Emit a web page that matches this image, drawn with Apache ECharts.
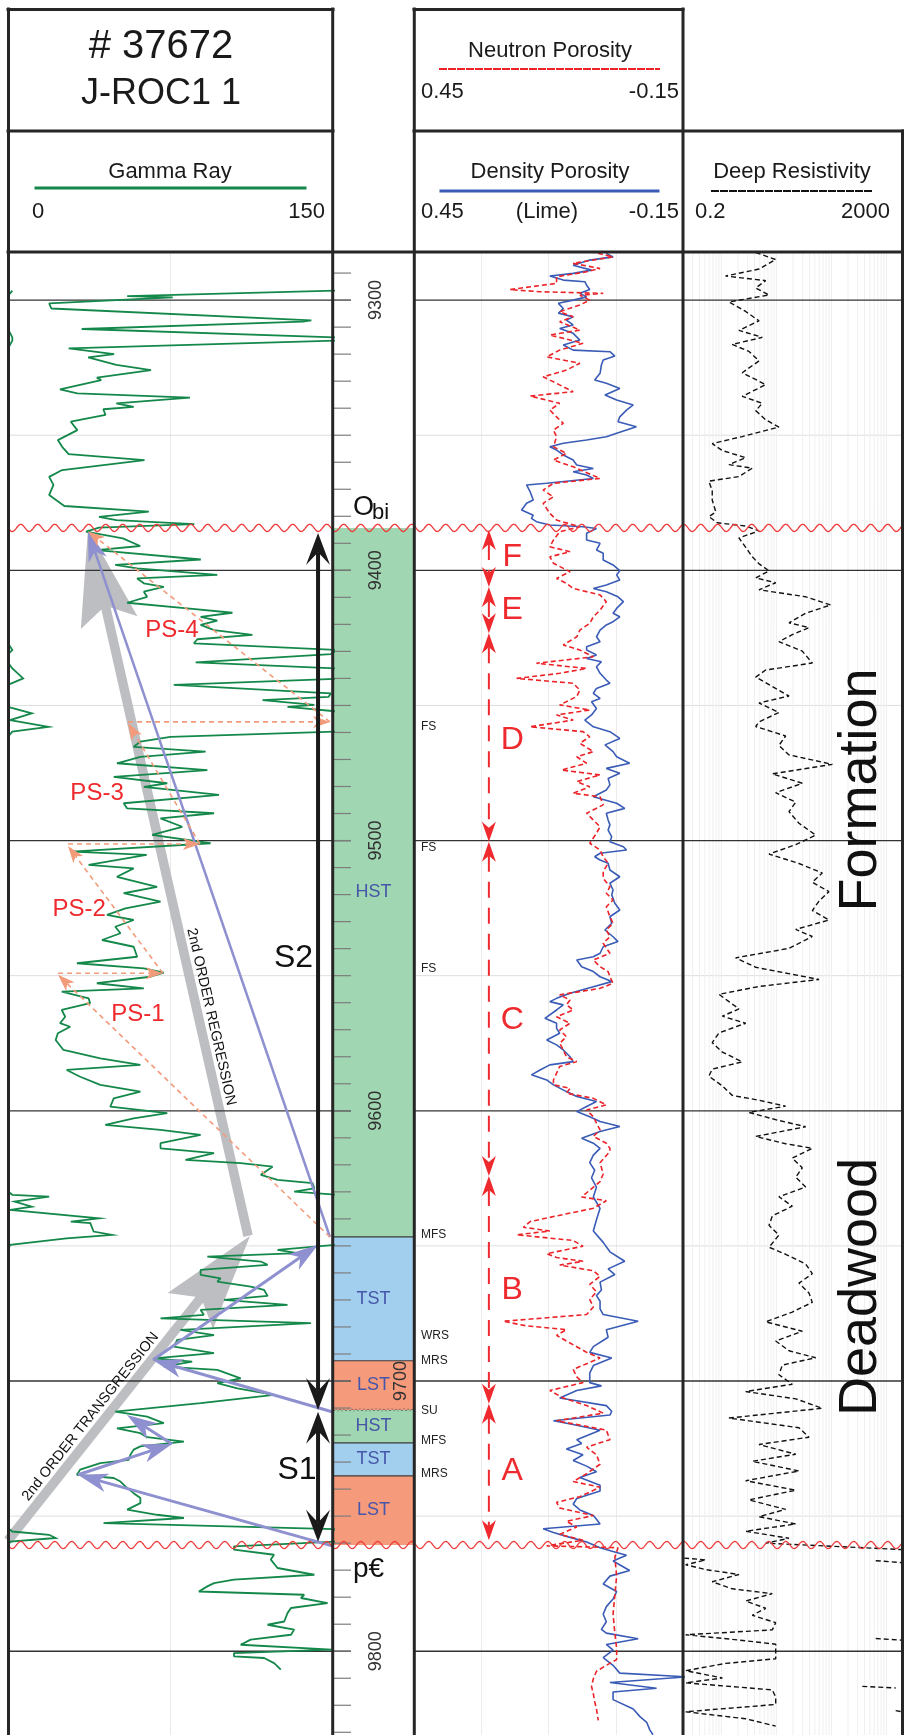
<!DOCTYPE html>
<html><head><meta charset="utf-8">
<script src="https://cdn.jsdelivr.net/npm/echarts@6/dist/echarts.min.js"></script>
<style>html,body{margin:0;padding:0;background:#fff}#c{width:904px;height:1735px}</style>
</head><body><div id="c"></div>
<script>
const DEPTH_MIN = 9282.2, DEPTH_MAX = 9831;

// Gamma Ray [depth, API]
const gammaRay = [[9296.5,152],[9298.5,55],[9299.0,76],[9301.2,19],[9303.1,20],[9307.5,140],[9308.0,136],[9310.7,34],[9313.8,152],[9315.0,152],[9317.9,28],[9320.0,49],[9321.2,37],[9324.0,50],[9325.9,66],[9328.7,41],[9329.6,43],[9333.0,24],[9334.5,32],[9336.1,84],[9338.2,50],[9339.5,58],[9340.4,44],[9342.5,45],[9345.0,29],[9348.1,32],[9351.8,23],[9354.3,25],[9357.0,28],[9359.2,63],[9362.9,25],[9365.4,19],[9368.4,21],[9372.1,19],[9376.2,26],[9378.3,65],[9380.2,42],[9381.4,50],[9382.9,86],[9384.2,42],[9385.7,36],[9388.2,53],[9391.0,61],[9392.5,41],[9396.0,89],[9398.0,49.5],[9399.3,59.6],[9401.7,96.6],[9403.0,59.6],[9404.8,62.7],[9406.1,71.9],[9407.9,62.7],[9409.8,64.2],[9412.0,55],[9414.1,82.7],[9415.7,103.6],[9417.2,88.9],[9418.6,96.6],[9420.2,88.9],[9422.1,95.1],[9423.9,112.8],[9425.5,87.4],[9427.0,85.8],[9429.5,152],[9431.0,149],[9434.1,86.6],[9436.3,152],[9440.0,157],[9442.4,76.5],[9445.5,149],[9446.8,148],[9448.0,117.5],[9449.8,141.4],[9450.5,129],[9452.9,161],[9455.4,151],[9457.9,168.7],[9459.7,152],[9461.6,75],[9463.4,61.1],[9465.3,58],[9467.1,91.2],[9469.0,61.1],[9471.4,50.3],[9473.9,92],[9476.4,48.8],[9478.8,73.5],[9480.1,62.7],[9483.1,97.4],[9486.2,53.4],[9488.1,55],[9489.9,95.1],[9491.8,70.4],[9494.9,80.4],[9497.9,66.5],[9501.0,93.5],[9504.1,29.5],[9505.3,64],[9509.0,37.2],[9510.3,58],[9513.4,50.3],[9517.1,68.8],[9519.5,53.4],[9522.6,70.4],[9525.1,54.2],[9527.5,45.7],[9529.4,58],[9531.9,49.5],[9534.3,51.9],[9536.8,43.4],[9539.3,58],[9543.0,59.6],[9545.4,31.8],[9547.3,62.7],[9548.9,71.9],[9550.4,65.7],[9552.8,41],[9554.7,62.7],[9555.9,24.8],[9558.4,37.2],[9560.2,37.9],[9562.7,24.8],[9565.2,26.4],[9567.6,24],[9568.9,28.7],[9571.3,23],[9573.8,22],[9577.5,25.6],[9580.6,42.6],[9583.0,61.1],[9584.9,27.1],[9587.4,33.3],[9590.4,42.6],[9592.9,61.1],[9595.4,48.8],[9598.5,47.2],[9600.9,73.5],[9602.8,58],[9605.2,44.9],[9607.1,70.4],[9608.9,88.9],[9612.0,70.4],[9613.9,70.4],[9615.7,95.1],[9618.2,81.9],[9619.4,107.4],[9620.7,122.1],[9623.7,116.7],[9625.6,124.4],[9626.8,140.6],[9628.7,141.4],[9629.9,132.1],[9631.1,152],[9631.8,169],[9633.6,153],[9635.5,161],[9636.7,151],[9639.8,192],[9641.0,179],[9641.6,188],[9644.7,189.5],[9645.9,198],[9647.2,177],[9649.6,151],[9651.5,124.4],[9652.7,133.7],[9654.0,92],[9655.8,116.7],[9657.0,119.8],[9658.9,88.9],[9660.7,88.9],[9662.0,98.1],[9663.2,96.6],[9665.1,112],[9666.3,118.2],[9668.5,119.8],[9670.0,99.7],[9671.8,129],[9673.7,88.9],[9675.5,90.4],[9676.8,70.4],[9678.6,139.8],[9681.1,79.6],[9683.0,95.1],[9684.8,78.1],[9687.3,76.5],[9689.7,95.1],[9691.6,67.3],[9692.8,85],[9694.7,71.9],[9695.9,96.6],[9699.0,107.4],[9700.8,96.6],[9702.7,105.9],[9705.1,122.8],[9708.2,88.9],[9711.3,49.5],[9713.2,64.2],[9715.6,71.9],[9717.5,50.3],[9719.3,61.1],[9720.8,64.2],[9722.4,81.2],[9724.2,61.1],[9725.4,58],[9727.3,56.5],[9729.2,55.7],[9730.4,42.6],[9732.8,33.3],[9734.7,31.8],[9735.9,48.8],[9737.2,51.9],[9739.0,54.2],[9741.5,58],[9743.3,61.1],[9745.2,61.1],[9747.6,55],[9749.5,68.8],[9750.7,81.2],[9752.6,44.1],[9754.8,150.5],[9755.7,152],[9756.9,169],[9758.1,172],[9759.4,151],[9761.2,104.3],[9762.4,104.3],[9764.3,122.8],[9766.1,121.3],[9769.2,124.4],[9771.7,141.4],[9773.5,104.3],[9774.8,95.1],[9776.0,92],[9777.9,88.1],[9779.1,136.7],[9780.3,135.2],[9782.2,147.5],[9784.0,130.6],[9785.9,129],[9789.0,127.5],[9790.2,119.8],[9792.0,132.1],[9793.9,130.6],[9795.7,112],[9797.6,107.4],[9799.4,149.5],[9800.7,104.3],[9801.9,104.3],[9802.5,118.2],[9804.4,122.8],[9805.6,124.4],[9806.8,125.9]];

// Density porosity (lime) [depth, v/v]
const densityPorosity = [[9282.7,0.021],[9284.0,0.006],[9285.2,0.058],[9287.1,0.095],[9288.9,0.054],[9290.1,0.095],[9291.1,0.147],[9292.6,0.117],[9293.2,0.069],[9294.5,0.065],[9296.1,0.058],[9297.5,0.080],[9298.8,0.065],[9300.0,0.095],[9301.2,0.128],[9303.1,0.117],[9304.9,0.128],[9306.2,0.095],[9307.4,0.110],[9309.2,0.095],[9310.5,0.125],[9312.3,0.095],[9314.8,0.080],[9316.6,0.117],[9318.5,0.095],[9319.1,0.013],[9320.7,0.002],[9322.2,0.028],[9324.0,0.032],[9327.1,0.035],[9329.6,0.047],[9330.8,0.021],[9332.7,-0.009],[9335.1,0.024],[9337.0,-0.002],[9338.8,-0.039],[9340.7,-0.024],[9343.2,-0.009],[9345.0,-0.005],[9346.9,-0.046],[9348.1,-0.024],[9349.3,-0.002],[9350.6,0.021],[9351.8,0.065],[9353.0,0.117],[9354.3,0.147],[9355.5,0.132],[9357.3,0.117],[9359.2,0.095],[9361.0,0.087],[9362.3,0.050],[9363.5,0.095],[9364.7,0.065],[9366.0,0.050],[9367.8,0.154],[9368.4,0.199],[9370.9,0.191],[9374.0,0.184],[9375.2,0.199],[9377.7,0.210],[9379.6,0.184],[9380.8,0.188],[9382.0,0.177],[9383.2,0.147],[9383.9,0.073],[9384.5,0.043],[9386.3,0.065],[9388.8,0.065],[9390.0,0.035],[9392.5,0.043],[9393.7,0.028],[9396.2,0.028],[9398.0,0.006],[9400.1,-0.009],[9401.7,-0.002],[9403.6,-0.009],[9405.4,0.021],[9406.7,0.050],[9407.9,0.021],[9409.8,-0.005],[9411.6,-0.017],[9414.1,-0.002],[9415.9,0.006],[9417.2,-0.009],[9419.0,0.006],[9420.2,0.021],[9422.1,0.035],[9424.6,0.043],[9426.4,0.035],[9428.3,0.065],[9429.5,0.065],[9431.3,0.043],[9432.6,0.065],[9433.8,0.032],[9435.7,0.043],[9438.1,0.035],[9440.6,0.021],[9441.8,0.013],[9443.7,0.043],[9445.5,0.050],[9447.4,0.035],[9448.6,0.054],[9451.1,0.043],[9453.5,0.054],[9455.4,0.069],[9457.9,0.050],[9459.7,0.013],[9462.2,-0.009],[9464.6,0.024],[9467.1,0.006],[9469.0,-0.002],[9471.4,-0.031],[9473.3,0.021],[9475.1,-0.009],[9477.0,0.017],[9479.4,0.013],[9481.3,0.021],[9483.8,0.050],[9486.2,-0.002],[9488.1,-0.020],[9489.9,0.021],[9492.4,0.017],[9494.2,0.013],[9496.1,0.017],[9498.6,0.009],[9500.4,0.013],[9502.3,-0.017],[9503.5,-0.024],[9504.7,0.035],[9506.0,0.047],[9507.2,0.035],[9508.4,0.017],[9510.9,0.013],[9513.4,-0.009],[9515.8,0.013],[9518.3,0.006],[9520.1,0.009],[9523.2,0.002],[9525.7,-0.009],[9528.2,0.013],[9530.6,0.009],[9533.1,0.024],[9535.6,0.006],[9537.4,-0.005],[9539.3,0.028],[9541.7,0.035],[9543.0,0.050],[9544.2,0.087],[9546.7,0.076],[9548.5,0.050],[9550.4,0.035],[9552.2,0.009],[9554.1,0.050],[9556.5,0.102],[9558.4,0.132],[9559.6,0.147],[9560.8,0.117],[9562.7,0.132],[9565.8,0.158],[9567.6,0.132],[9569.5,0.132],[9571.3,0.125],[9573.8,0.154],[9575.6,0.132],[9577.5,0.117],[9580.0,0.102],[9581.8,0.095],[9583.0,0.147],[9584.9,0.169],[9586.7,0.188],[9588.6,0.154],[9590.4,0.139],[9592.9,0.110],[9594.7,0.087],[9596.6,0.043],[9598.4,0.065],[9600.3,0.087],[9602.2,0.058],[9604.0,0.035],[9605.8,-0.009],[9607.7,0.035],[9610.2,0.076],[9612.0,0.050],[9613.9,0.035],[9616.4,0.050],[9619.2,0.058],[9622.0,0.047],[9624.8,0.054],[9628.3,0.043],[9631.9,0.050],[9636.1,0.035],[9640.3,0.043],[9644.5,0.050],[9648.7,0.028],[9652.2,0.013],[9655.7,-0.020],[9658.5,0.017],[9660.6,0.002],[9663.4,0.035],[9666.3,0.032],[9668.4,0.043],[9670.5,0.035],[9673.3,0.035],[9675.4,0.028],[9677.9,-0.050],[9681.0,0.021],[9683.8,0.017],[9687.3,0.050],[9689.4,0.058],[9691.5,0.009],[9694.3,0.050],[9697.1,0.058],[9700.6,0.058],[9701.8,0.032],[9703.5,0.087],[9706.3,0.125],[9709.1,0.021],[9711.2,0.009],[9712.6,0.013],[9714.7,0.139],[9716.1,0.095],[9718.2,0.035],[9721.7,0.087],[9723.1,0.076],[9725.2,0.110],[9727.3,0.073],[9729.4,0.095],[9731.5,0.065],[9733.6,0.043],[9735.7,0.080],[9738.6,0.035],[9740.7,0.035],[9743.5,0.087],[9745.6,0.095],[9747.7,0.080],[9749.8,0.050],[9751.2,0.043],[9752.9,0.035],[9754.7,0.162],[9756.1,0.139],[9757.5,0.110],[9759.6,0.065],[9761.7,0.035],[9763.1,0.006],[9764.5,-0.024],[9766.6,0.006],[9770.1,-0.031],[9772.2,0.013],[9775.1,0.028],[9777.9,-0.002],[9780.7,0.006],[9783.5,0.021],[9786.3,0.028],[9789.1,0.021],[9791.9,0.032],[9793.3,0.021],[9795.4,-0.050],[9797.5,0.021],[9799.6,0.006],[9802.4,0.028],[9805.2,0.006],[9808.1,-0.009],[9809.5,-0.158],[9811.6,0.013],[9813.7,-0.091],[9815.1,0.006],[9817.9,0.006],[9821.4,-0.039],[9824.2,-0.054],[9826.3,-0.069],[9829.1,-0.076],[9830.9,-0.083]];

// Neutron porosity [depth, v/v]
const neutronPorosity = [[9282.25,0.45],[9282.3,0.05],[9284.0,0.006],[9286.4,0.095],[9288.3,0.035],[9289.5,0.065],[9291.4,0.132],[9293.8,0.132],[9296.1,0.236],[9296.9,0.169],[9297.5,0.028],[9298.2,0.080],[9300.0,0.058],[9301.8,0.080],[9304.3,0.125],[9306.2,0.095],[9308.0,0.125],[9311.1,0.080],[9312.9,0.147],[9316.0,0.073],[9318.5,0.125],[9321.0,0.154],[9323.4,0.080],[9325.9,0.110],[9328.4,0.162],[9330.8,0.132],[9333.9,0.095],[9335.5,0.191],[9338.2,0.125],[9340.7,0.147],[9343.2,0.132],[9345.6,0.117],[9348.1,0.139],[9350.6,0.132],[9354.3,0.139],[9356.7,0.110],[9359.2,0.139],[9361.7,0.095],[9366.0,0.035],[9367.8,0.139],[9370.3,0.162],[9372.8,0.139],[9375.2,0.162],[9378.9,0.147],[9381.4,0.132],[9383.9,0.080],[9385.7,0.125],[9388.8,0.139],[9391.3,0.147],[9393.1,0.102],[9395.0,0.147],[9397.4,0.139],[9400.5,0.102],[9403.0,0.132],[9404.8,0.110],[9406.7,0.095],[9409.1,0.035],[9411.6,0.021],[9414.7,0.035],[9417.2,0.050],[9419.6,0.058],[9422.1,0.080],[9424.6,0.087],[9427.6,0.117],[9429.5,0.080],[9432.0,0.050],[9434.4,0.177],[9436.3,0.065],[9438.1,0.125],[9440.0,0.221],[9441.8,0.095],[9444.3,0.080],[9446.7,0.087],[9449.8,0.125],[9451.7,0.058],[9453.5,0.132],[9455.4,0.095],[9457.9,0.191],[9459.7,0.073],[9461.6,0.058],[9464.0,0.080],[9467.1,0.050],[9469.0,0.087],[9471.4,0.065],[9473.9,0.121],[9475.7,0.035],[9478.2,0.087],[9480.1,0.058],[9482.5,0.095],[9483.8,0.035],[9486.8,0.028],[9489.9,0.065],[9492.4,0.050],[9494.9,0.035],[9497.3,0.043],[9501.0,0.058],[9503.5,0.035],[9506.0,0.028],[9508.4,0.017],[9511.5,0.028],[9514.0,0.028],[9517.1,0.013],[9519.5,0.021],[9522.0,0.006],[9524.5,0.021],[9528.2,0.013],[9530.6,0.006],[9533.1,0.021],[9535.6,0.013],[9538.0,0.028],[9541.7,0.013],[9544.2,0.050],[9546.7,0.035],[9548.5,0.017],[9550.4,0.013],[9552.8,0.006],[9554.7,0.035],[9555.9,0.080],[9557.1,0.125],[9559.0,0.102],[9560.8,0.110],[9562.7,0.095],[9565.2,0.132],[9567.6,0.102],[9570.1,0.125],[9572.6,0.110],[9575.0,0.125],[9577.5,0.117],[9580.0,0.110],[9581.8,0.087],[9583.6,0.125],[9586.1,0.132],[9588.6,0.139],[9590.4,0.139],[9591.7,0.102],[9593.5,0.110],[9595.4,0.050],[9597.8,0.021],[9599.7,0.065],[9602.2,0.050],[9604.6,0.043],[9607.1,0.035],[9609.5,0.050],[9612.0,0.021],[9613.9,0.013],[9615.0,0.013],[9619.2,0.035],[9623.4,0.028],[9626.2,0.035],[9631.9,0.076],[9633.3,0.021],[9636.1,0.050],[9638.9,0.132],[9641.0,0.191],[9643.1,0.206],[9644.5,0.147],[9645.9,0.221],[9648.0,0.095],[9650.1,0.073],[9652.9,0.154],[9654.3,0.132],[9655.7,0.073],[9657.1,0.125],[9659.2,0.050],[9661.3,0.035],[9664.2,0.058],[9667.0,0.043],[9669.8,0.058],[9672.6,0.050],[9675.4,0.065],[9677.9,0.251],[9679.6,0.199],[9681.0,0.110],[9683.1,0.132],[9685.2,0.110],[9687.3,0.087],[9689.4,0.065],[9691.5,0.035],[9693.6,0.065],[9695.7,0.095],[9698.5,0.087],[9700.6,0.073],[9703.5,0.147],[9706.3,0.117],[9709.1,0.065],[9711.9,0.028],[9714.7,0.132],[9718.2,0.021],[9721.7,0.013],[9724.5,0.065],[9727.3,0.043],[9730.8,0.035],[9734.3,0.065],[9737.2,0.095],[9739.3,0.035],[9742.8,0.080],[9744.9,0.132],[9747.0,0.125],[9749.8,0.050],[9751.9,0.110],[9754.0,0.087],[9756.8,0.125],[9758.9,0.073],[9761.0,0.154],[9761.7,-0.005],[9765.2,0.002],[9772.2,-0.002],[9779.3,0.002],[9786.3,0.006],[9793.3,0.002],[9799.0,-0.002],[9803.1,-0.002],[9805.2,0.021],[9807.4,0.043],[9810.2,0.050],[9813.0,0.054],[9815.8,0.050],[9818.6,0.047],[9821.4,0.043],[9825.6,0.039]];

// Deep resistivity [depth, ohm.m]
const deepResistivity = [[9282.4,4.2],[9285.0,9.7],[9288.5,4.82],[9291.1,1.19],[9292.8,6.38],[9295.5,4.2],[9298.1,7.33],[9300.7,1.37],[9304.2,2.76],[9307.7,4.82],[9311.2,2.08],[9313.8,5.53],[9316.4,1.57],[9319.0,3.17],[9322.5,4.82],[9326.9,2.39],[9331.3,6.38],[9335.6,2.39],[9338.2,5.53],[9340.9,4.2],[9344.3,6.38],[9347.0,11.1],[9350.5,2.39],[9353.1,0.68],[9355.7,1.04],[9358.3,2.76],[9360.9,1.37],[9362.2,3.64],[9365.3,2.08],[9367.0,0.59],[9370.5,0.68],[9374.0,0.68],[9378.4,0.79],[9380.1,0.59],[9382.4,0.84],[9383.6,2.76],[9385.4,4.82],[9388.0,2.08],[9391.5,2.76],[9395.0,3.64],[9397.6,4.82],[9400.2,7.33],[9402.8,4.2],[9404.6,9.7],[9407.2,4.82],[9409.8,34],[9412.8,97],[9415.9,34],[9419.4,16.9],[9421.2,39],[9423.8,19.4],[9426.4,11.1],[9429.9,29.5],[9434.3,44.9],[9436.9,6.38],[9439.5,4.2],[9443.0,8.41],[9446.5,16.9],[9449.1,4.82],[9452.6,11.1],[9456.1,4.82],[9457.8,4.2],[9461.3,14.7],[9464.8,11.1],[9468.3,16.9],[9471.8,104],[9475.3,8.41],[9478.8,29.5],[9482.3,9.7],[9485.8,22.4],[9489.3,16.9],[9493.6,25.7],[9498.0,51.8],[9501.5,22.4],[9505.0,7.33],[9508.5,25.7],[9512.0,68],[9515.4,44.9],[9518.9,90],[9522.4,59.4],[9525.9,44.9],[9529.4,90],[9532.9,22.4],[9535.5,44.9],[9539.9,16.9],[9543.4,1.81],[9546.9,4.2],[9551.4,59.4],[9554.0,4.82],[9556.9,0.9],[9559.6,1.37],[9562.3,2.08],[9565.0,1.04],[9567.6,2.76],[9571.2,0.9],[9574.8,0.68],[9578.3,1.04],[9581.9,2.39],[9584.6,0.68],[9587.2,0.59],[9590.8,1.04],[9594.3,1.57],[9596.1,4.82],[9598.3,14.7],[9600.6,3.17],[9603.3,9.7],[9605.9,34],[9609.5,4.2],[9612.2,14.7],[9613.9,44.9],[9617.5,19.4],[9621.1,29.5],[9624.6,22.4],[9628.2,34],[9631.8,11.1],[9635.3,19.4],[9638.9,8.41],[9642.4,7.33],[9646.0,11.1],[9650.5,7.33],[9653.1,14.7],[9656.7,34],[9660.3,44.9],[9663.8,25.7],[9667.4,39],[9670.9,44.9],[9674.5,19.4],[9678.1,6.38],[9681.6,29.5],[9685.2,9.7],[9688.8,16.9],[9691.4,51.8],[9694.1,12.8],[9697.7,11.1],[9701.2,19.4],[9703.9,2.76],[9706.6,22.4],[9710.1,68],[9713.7,1.37],[9717.3,25.7],[9720.8,39],[9723.5,4.82],[9727.1,22.4],[9729.7,3.64],[9733.3,25.7],[9736.9,2.76],[9740.4,22.4],[9744.0,3.17],[9747.5,14.7],[9750.2,4.82],[9752.9,22.4],[9755.6,2.76],[9758.2,16.9],[9760.0,6.38],[9762.7,4000]];
// below the unconformity the curve is shown on the back-up (wrapped) trace
const deepResistivityLower = [[9765.3,0.15],[9766.2,0.52],[9768.0,0.224],[9769.8,0.52],[9771.6,2.08],[9774.3,0.68],[9776.9,1.57],[9778.7,8.41],[9781.4,2.76],[9784.1,6.38],[9786.7,3.64],[9789.4,9.7],[9792.1,8.41],[9793.9,0.224],[9795.6,1.57],[9797.4,9.7],[9802.8,9.7],[9804.5,1.19],[9807.2,0.224],[9809.9,1.04],[9811.7,0.224],[9814.3,8.41],[9817.0,9.7],[9819.7,9.7],[9822.4,0.224],[9825.0,2.76],[9827.7,9.7]];
const deepResistivityHighBits = [[[9766.5,640],[9767.3,2200]],[[9795.3,640],[9796.0,2200]],[[9813.0,364],[9813.6,1472]],[[9822.0,1472],[9822.6,2200]]];

// axis structure
const majorDepths = [9300, 9400, 9500, 9600, 9700, 9800];
const minorDepths = [9350, 9450, 9550, 9650, 9750];
const depthLabels = [9300, 9400, 9500, 9600, 9700, 9800];
const resGridValues = [0.3,0.4,0.5,0.6,0.7,0.8,0.9,1,2,3,4,5,6,7,8,9,10,20,30,40,50,60,70,80,90,100,200,300,400,500,600,700,800,900,1000];

// interpretation
const unconformities = [9384.3, 9760.7];
const systemsTracts = [['HST',9384.3,9646.7],['TST',9646.7,9692.5],['LST',9692.5,9710.7],['HST',9710.7,9722.9],['TST',9722.9,9735.1],['LST',9735.1,9760.7]];
const tractLabelDepths = [9519, 9669.6, 9701.6, 9716.8, 9729.0, 9747.9];
const tractBoundaries = [9646.7, 9692.5, 9722.9, 9735.1];
const subaerialUnconformity = [9710.7];
const surfaces = [['FS',9458],['FS',9502.8],['FS',9547.6],['MFS',9645.9],['WRS',9683.4],['MRS',9692.5],['SU',9711.1],['MFS',9722.1],['MRS',9734.3]];
const seqBounds = [9385.1, 9406.2, 9423.3, 9500.4, 9624.1, 9708.4, 9758.9];
const seqLetters = [['F',9395],['E',9414.7],['D',9462.8],['C',9566.4],['B',9666.5],['A',9733.2]];
const psLabels = [['PS-4',75.7,9422.1],['PS-3',41.1,9482.4],['PS-2',32.8,9525.3],['PS-1',60.0,9564.2]];
const sequenceLabels = [['S2',131.8,9543.6],['S1',133.4,9732.9]];
// arrows in (gamma API, depth) space: [x1, d1, x2, d2]
const secondOrderArrows = [[110.8,9646.3,36.9,9384.7],[0,9759.0,111.7,9646.3]];
const secondOrderNames = ['2nd ORDER REGRESSION', '2nd ORDER TRANSGRESSION'];
const trendArrows = [[149.5,9761.0,32.3,9734.7],[32.3,9734.7,75.7,9723.3],[75.7,9723.3,54.9,9712.6],[149.5,9711.4,66.9,9692.2],[66.9,9692.2,143.1,9649.6],[148.6,9646.7,36.9,9385.5]];
const parasequenceArrows = [[148.6,9646.7,23.1,9549.7],[23.1,9549.1,71.5,9549.1],[71.5,9549.1,27.7,9502.0],[27.7,9501.3,88.6,9501.3],[88.6,9501.3,55.4,9456.5],[55.4,9456.1,148.6,9456.1],[148.6,9456.1,36.9,9385.5]];
const sequenceSpans = [[143.1,9386.2,143.1,9710.7],[143.1,9711.4,143.1,9759.5]];

// ---------------- rendering ----------------
const FONT = '"Liberation Sans", Arial, sans-serif';
const f = (s) => s + 'px ' + FONT;
const tractColors = {HST:'#a0d6b1', TST:'#a3cfee', LST:'#f59a7b'};
const G = {top: 252, height: 1483};

function headShape(tip, from, h) {
  const dx = tip[0]-from[0], dy = tip[1]-from[1];
  const len = Math.hypot(dx, dy) || 1;
  const ux = dx/len, uy = dy/len, px = -uy, py = ux;
  const bx = tip[0]-ux*h.L, by = tip[1]-uy*h.L;
  const notch = [tip[0]-ux*h.L*h.n, tip[1]-uy*h.L*h.n];
  return {poly:[tip,[bx+px*h.W, by+py*h.W], notch, [bx-px*h.W, by-py*h.W]], notch};
}
function arrowSeries(grid, data, st, z) {
  return {
    type:'custom', xAxisIndex:grid, yAxisIndex:grid, z, silent:true, clip:false,
    data, encode:{x:[0,2], y:[1,3]},
    renderItem(params, api) {
      const a = api.coord([api.value(0), api.value(1)]);
      const b = api.coord([api.value(2), api.value(3)]);
      let s = a, e = b; const kids = [];
      if (st.end) { const h = headShape(b, a, st.end); kids.push({type:'polygon', shape:{points:h.poly}, style:{fill:st.color}}); e = h.notch; }
      if (st.start) { const h = headShape(a, b, st.start); kids.push({type:'polygon', shape:{points:h.poly}, style:{fill:st.color}}); s = h.notch; }
      kids.unshift({type:'line', shape:{x1:s[0],y1:s[1],x2:e[0],y2:e[1]}, style:{stroke:st.color, lineWidth:st.width, lineDash:st.dash || null, fill:null}});
      return {type:'group', children:kids};
    }
  };
}
function hLines(grid, xVal, depths, color, width, extend, z) {
  return {
    type:'custom', xAxisIndex:grid, yAxisIndex:grid, z, silent:true, clip:false,
    data: depths.map(d => [xVal, d]),
    renderItem(params, api) {
      const cs = params.coordSys;
      const y = api.coord([api.value(0), api.value(1)])[1];
      return {type:'line', shape:{x1:cs.x, y1:y, x2:cs.x+cs.width+(extend||0), y2:y}, style:{stroke:color, lineWidth:width}};
    }
  };
}
function wrapSegments(pairs, max) {
  const segs = []; let cur = null;
  pairs.forEach(([d, v], i) => {
    if (v > max) {
      if (!cur) { cur = []; if (i > 0) cur.push([0, pairs[i-1][0]]); }
      cur.push([v - max, d]);
    } else if (cur) { cur.push([0, d]); segs.push(cur); cur = null; }
  });
  if (cur) segs.push(cur);
  return segs;
}

const tickDepths = [];
for (let d = 9290; d <= 9830; d += 10) tickDepths.push(d);

const yAxes = [0,1,2,3].map(i => ({gridIndex:i, type:'value', inverse:true, min:DEPTH_MIN, max:DEPTH_MAX, show:false}));
const hiddenBits = {axisLine:{show:false}, axisTick:{show:false}, axisLabel:{show:false}};

const series = [
  hLines(0, 0, minorDepths, '#dedede', 1, 0, 1),
  hLines(2, 0, minorDepths, '#dedede', 1, 0, 1),
  hLines(3, 1, minorDepths, '#dedede', 1, 0, 1),
  {
    type:'custom', xAxisIndex:3, yAxisIndex:3, z:1, silent:true, clip:false,
    data: resGridValues.map(v => [v, 9300]),
    renderItem(params, api) {
      const cs = params.coordSys; const x = api.coord([api.value(0), api.value(1)])[0];
      return {type:'line', shape:{x1:x, y1:cs.y, x2:x, y2:cs.y+cs.height}, style:{stroke:'#efefef', lineWidth:1}};
    }
  },
  hLines(0, 0, majorDepths, '#333', 1.3, 18, 2),
  hLines(2, 0, majorDepths, '#333', 1.3, 0, 2),
  hLines(3, 1, majorDepths, '#333', 1.3, 0, 2),
  {
    type:'custom', xAxisIndex:1, yAxisIndex:1, z:1, silent:true, clip:false,
    data: systemsTracts.map(t => [0, t[1], 1, t[2]]),
    renderItem(params, api) {
      const a = api.coord([api.value(0), api.value(1)]), b = api.coord([api.value(2), api.value(3)]);
      return {type:'rect', shape:{x:a[0], y:a[1], width:b[0]-a[0], height:b[1]-a[1]}, style:{fill:tractColors[systemsTracts[params.dataIndex][0]]}};
    }
  },
  hLines(1, 0, tractBoundaries, '#3a3a3a', 1.2, 0, 2),
  {
    type:'custom', xAxisIndex:1, yAxisIndex:1, z:2, silent:true, clip:false,
    data: subaerialUnconformity.map(d => [0, d]),
    renderItem(params, api) {
      const cs = params.coordSys; const y = api.coord([0, api.value(1)])[1]; const pts = [];
      for (let x = cs.x; x <= cs.x + cs.width; x += 1) pts.push([x, y + 1.3*Math.sin((x-cs.x)*2*Math.PI/4)]);
      return {type:'polyline', shape:{points:pts}, style:{stroke:'#555', lineWidth:1, fill:null, lineDash:[1,1]}};
    }
  },
  {
    type:'custom', xAxisIndex:1, yAxisIndex:1, z:3, silent:true, clip:false,
    data: tickDepths.map(d => [0, d]),
    renderItem(params, api) {
      const cs = params.coordSys; const y = api.coord([0, api.value(1)])[1];
      return {type:'line', shape:{x1:cs.x, y1:y, x2:cs.x+18, y2:y}, style:{stroke:'#7d7d7d', lineWidth:1.2}};
    }
  },
  {
    type:'custom', xAxisIndex:1, yAxisIndex:1, z:4, silent:true, clip:false,
    data: tractLabelDepths.map(d => [0.5, d]),
    renderItem(params, api) {
      const p = api.coord([api.value(0), api.value(1)]);
      return {type:'text', x:p[0], y:p[1], style:{text:systemsTracts[params.dataIndex][0], fill:'#4656a8', font:f(18), align:'center', verticalAlign:'middle'}};
    }
  },
  {
    type:'custom', xAxisIndex:1, yAxisIndex:1, z:4, silent:true, clip:false,
    data: depthLabels.map(d => [d === 9700 ? 0.84 : 0.53, d]),
    renderItem(params, api) {
      const p = api.coord([api.value(0), api.value(1)]);
      return {type:'text', x:p[0], y:p[1], rotation:Math.PI/2, style:{text:String(depthLabels[params.dataIndex]), fill:'#333', font:f(18), align:'center', verticalAlign:'middle'}};
    }
  },
  {
    type:'custom', xAxisIndex:1, yAxisIndex:1, z:4, silent:true, clip:false,
    data: unconformities.map(d => [0, d]),
    renderItem(params, api) {
      const cs = params.coordSys; const y = api.coord([0, api.value(1)])[1];
      if (params.dataIndex === 0) {
        return {type:'group', children:[
          {type:'text', x:cs.x+20, y:y-20, style:{text:'O', fill:'#111', font:f(27), align:'left', verticalAlign:'middle'}},
          {type:'text', x:cs.x+39, y:y-15, style:{text:'bi', fill:'#111', font:f(22), align:'left', verticalAlign:'middle'}}
        ]};
      }
      return {type:'text', x:cs.x+20, y:y+24, style:{text:'p€', fill:'#111', font:f(28), align:'left', verticalAlign:'middle'}};
    }
  },
  arrowSeries(0, secondOrderArrows, {color:'#bdbec1', width:9.5, end:{L:96, W:29, n:0.82}}, 1),
  {
    type:'custom', xAxisIndex:0, yAxisIndex:0, z:5, silent:true, clip:false,
    data: secondOrderArrows, encode:{x:[0,2], y:[1,3]},
    renderItem(params, api) {
      const a = api.coord([api.value(0), api.value(1)]), b = api.coord([api.value(2), api.value(3)]);
      const len = Math.hypot(b[0]-a[0], b[1]-a[1]);
      const ux = (b[0]-a[0])/len, uy = (b[1]-a[1])/len;
      const regression = params.dataIndex === 0;
      const t = regression ? 0.306 : 0.381, off = regression ? 12.5 : -12.5;
      const cx = a[0] + ux*len*t - uy*off, cy = a[1] + uy*len*t + ux*off;
      const rx = regression ? -ux : ux, ry = regression ? -uy : uy;
      return {type:'text', x:cx, y:cy, rotation:-Math.atan2(ry, rx), style:{text:secondOrderNames[params.dataIndex], fill:'#111', font:f(14.5), align:'center', verticalAlign:'middle'}};
    }
  },
  {
    type:'line', name:'Gamma Ray', xAxisIndex:0, yAxisIndex:0, z:3, clip:true, showSymbol:false, symbol:'none', silent:true,
    data: gammaRay.map(([d, v]) => [v, d]), lineStyle:{color:'#14884a', width:1.8}
  },
  {
    type:'lines', coordinateSystem:'cartesian2d', xAxisIndex:0, yAxisIndex:0, z:3, polyline:true, silent:true, clip:true,
    data: wrapSegments(gammaRay, 150).map(s => ({coords:s})), lineStyle:{color:'#14884a', width:1.8, opacity:1}
  },
  {
    type:'line', name:'Density Porosity', xAxisIndex:2, yAxisIndex:2, z:3, clip:true, showSymbol:false, symbol:'none', silent:true,
    data: densityPorosity.map(([d, v]) => [v, d]), lineStyle:{color:'#3a5cb7', width:1.6}
  },
  {
    type:'line', name:'Neutron Porosity', xAxisIndex:2, yAxisIndex:2, z:4, clip:true, showSymbol:false, symbol:'none', silent:true,
    data: neutronPorosity.map(([d, v]) => [v, d]), lineStyle:{color:'#ec2328', width:1.6, type:[5,3]}
  },
  {
    type:'line', name:'Deep Resistivity', xAxisIndex:3, yAxisIndex:3, z:3, clip:true, showSymbol:false, symbol:'none', silent:true,
    data: deepResistivity.map(([d, v]) => [v, d]), lineStyle:{color:'#111', width:1.4, type:[5,3]}
  },
  {
    type:'line', name:'Deep Resistivity (wrapped)', xAxisIndex:3, yAxisIndex:3, z:3, clip:true, showSymbol:false, symbol:'none', silent:true,
    data: deepResistivityLower.map(([d, v]) => [v, d]), lineStyle:{color:'#111', width:1.4, type:[5,3]}
  },
  {
    type:'lines', coordinateSystem:'cartesian2d', xAxisIndex:3, yAxisIndex:3, z:3, polyline:true, silent:true, clip:true,
    data: deepResistivityHighBits.map(s => ({coords:s.map(([d, v]) => [v, d])})), lineStyle:{color:'#111', width:1.4, type:[5,3], opacity:1}
  },
  arrowSeries(0, trendArrows.slice(0, 5), {color:'#8e90cf', width:3, end:{L:30, W:9.5, n:0.72}}, 5),
  arrowSeries(0, trendArrows.slice(5), {color:'#8e90cf', width:2.5, end:{L:30, W:9.5, n:0.72}}, 5),
  arrowSeries(0, parasequenceArrows, {color:'#f29b7b', width:1.6, dash:[5,4], end:{L:17, W:6, n:0.75}}, 5),
  arrowSeries(0, sequenceSpans, {color:'#1a1a1a', width:4, start:{L:32, W:12, n:0.6}, end:{L:32, W:12, n:0.6}}, 6),
  arrowSeries(2, seqBounds.slice(0, -1).map((b, i) => [0.283, b, 0.283, seqBounds[i+1]]), {color:'#ee2a2e', width:2, dash:[16,10], start:{L:20, W:7, n:0.7}, end:{L:20, W:7, n:0.7}}, 6),
  {
    type:'custom', xAxisIndex:0, yAxisIndex:0, z:7, silent:true, clip:false,
    data: psLabels.map(p => [p[1], p[2]]),
    renderItem(params, api) {
      const p = api.coord([api.value(0), api.value(1)]);
      return {type:'text', x:p[0], y:p[1], style:{text:psLabels[params.dataIndex][0], fill:'#ee2a2e', font:f(24), align:'center', verticalAlign:'middle'}};
    }
  },
  {
    type:'custom', xAxisIndex:0, yAxisIndex:0, z:7, silent:true, clip:false,
    data: sequenceLabels.map(p => [p[1], p[2]]),
    renderItem(params, api) {
      const p = api.coord([api.value(0), api.value(1)]);
      return {type:'text', x:p[0], y:p[1], style:{text:sequenceLabels[params.dataIndex][0], fill:'#111', font:f(32), align:'center', verticalAlign:'middle'}};
    }
  },
  {
    type:'custom', xAxisIndex:2, yAxisIndex:2, z:7, silent:true, clip:false,
    data: surfaces.map(s => [0.45, s[1]]),
    renderItem(params, api) {
      const p = api.coord([api.value(0), api.value(1)]);
      return {type:'text', x:p[0]+7, y:p[1], style:{text:surfaces[params.dataIndex][0], fill:'#222', font:f(12), align:'left', verticalAlign:'middle'}};
    }
  },
  {
    type:'custom', xAxisIndex:2, yAxisIndex:2, z:7, silent:true, clip:false,
    data: seqLetters.map(s => [0.231, s[1]]),
    renderItem(params, api) {
      const p = api.coord([api.value(0), api.value(1)]);
      return {type:'text', x:p[0], y:p[1], style:{text:seqLetters[params.dataIndex][0], fill:'#ee2a2e', font:f(32), align:'center', verticalAlign:'middle'}};
    }
  },
  {
    type:'custom', xAxisIndex:0, yAxisIndex:0, z:8, silent:true, clip:false,
    data: unconformities.map(d => [0, d]),
    renderItem(params, api) {
      const cs = params.coordSys; const y = api.coord([0, api.value(1)])[1];
      const x0 = cs.x, x1 = api.getWidth(); const pts = [];
      for (let x = x0; x <= x1; x += 1) pts.push([x, y + 3.6*Math.sin((x-x0)*2*Math.PI/17)]);
      return {type:'polyline', shape:{points:pts}, style:{stroke:'#ef3a3a', lineWidth:1.3, fill:null}};
    }
  }
];

const L = (x1, y1, x2, y2, w, color, dash) => ({type:'line', z:100, silent:true, shape:{x1, y1, x2, y2}, style:{stroke:color || '#262626', lineWidth:w || 3, lineDash:dash || null, lineCap:'square'}});
const T = (text, x, y, size, align, color, rot) => ({type:'text', z:100, silent:true, x, y, rotation:rot || 0, style:{text, fill:color || '#1a1a1a', font:f(size), align:align || 'center', verticalAlign:'middle'}});
const graphics = [
  L(8, 9.5, 333, 9.5), L(8.5, 9, 8.5, 1735), L(332.7, 9, 332.7, 1735), L(8, 131, 333, 131),
  L(414, 9.5, 683, 9.5), L(414.3, 9, 414.3, 1735), L(683, 9, 683, 1735), L(414, 131, 903, 131),
  L(902.5, 131, 902.5, 1735), L(8, 252, 903, 252),
  T('# 37672', 161, 47, 40), T('J-ROC1 1', 161, 94, 36),
  T('Neutron Porosity', 550, 51, 22), L(440, 69, 659, 69, 2, '#ec2328', [6,3]),
  T('0.45', 421, 92, 22, 'left'), T('-0.15', 679, 92, 22, 'right'),
  T('Gamma Ray', 170, 172, 22), L(36, 188, 305, 188, 3, '#14884a'),
  T('0', 32, 212, 22, 'left'), T('150', 325, 212, 22, 'right'),
  T('Density Porosity', 550, 172, 22), L(441, 191, 658, 191, 3, '#3a5cb7'),
  T('0.45', 421, 212, 22, 'left'), T('(Lime)', 547, 212, 22), T('-0.15', 679, 212, 22, 'right'),
  T('Deep Resistivity', 792, 172, 22), L(712, 191, 873, 191, 2, '#111', [6,3]),
  T('0.2', 695, 212, 22, 'left'), T('2000', 890, 212, 22, 'right'),
  T('Formation', 861, 790, 54, 'center', '#111', Math.PI/2),
  T('Deadwood', 861, 1287, 54, 'center', '#111', Math.PI/2)
];

const chart = echarts.init(document.getElementById('c'), null, {renderer:'canvas', width:904, height:1735});
chart.setOption({
  animation:false,
  backgroundColor:'#ffffff',
  textStyle:{fontFamily:FONT},
  grid:[
    {left:8, top:G.top, width:325, height:G.height},
    {left:333, top:G.top, width:81, height:G.height},
    {left:414, top:G.top, width:269, height:G.height},
    {left:683, top:G.top, width:220, height:G.height}
  ],
  xAxis:[
    Object.assign({gridIndex:0, type:'value', min:0, max:150, interval:75, splitLine:{show:true, lineStyle:{color:'#e9e9e9'}}}, hiddenBits),
    {gridIndex:1, type:'value', min:0, max:1, show:false},
    Object.assign({gridIndex:2, type:'value', min:-0.15, max:0.45, interval:0.15, inverse:true, splitLine:{show:true, lineStyle:{color:'#ececec'}}}, hiddenBits),
    Object.assign({gridIndex:3, type:'log', logBase:10, min:0.2, max:2000, splitLine:{show:false}}, hiddenBits)
  ],
  yAxis: yAxes,
  series,
  graphic:{elements:graphics}
});
</script>
</body></html>
